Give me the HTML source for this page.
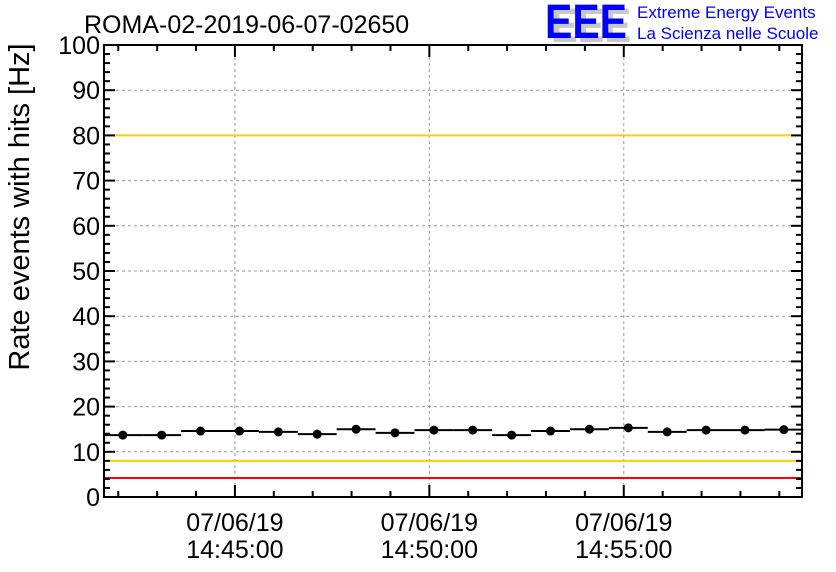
<!DOCTYPE html>
<html><head><meta charset="utf-8"><style>
body{margin:0;background:#fff;}
svg{display:block;font-family:"Liberation Sans",sans-serif;}
</style></head><body>
<svg id="c" width="836" height="572">
<text x="84" y="33" font-size="25">ROMA-02-2019-06-07-02650</text>
<g>
<text x="551" y="42" font-size="48" fill="#c8c8c8" font-weight="bold" textLength="80" lengthAdjust="spacingAndGlyphs">EEE</text>
<text x="545" y="38" font-size="48" fill="#0000ff" font-weight="bold" textLength="82" lengthAdjust="spacingAndGlyphs">EEE</text>
<text x="637" y="18" font-size="17" fill="#0000ff">Extreme Energy Events</text>
<text x="637" y="39" font-size="17" fill="#0000ff">La Scienza nelle Scuole</text>
</g>
<text transform="translate(29,207) rotate(-90)" text-anchor="middle" font-size="29">Rate events with hits [Hz]</text>
<g id="plot"></g>
</svg>
<script>
const values=[13.7,13.7,14.6,14.6,14.4,13.9,15.0,14.2,14.8,14.8,13.7,14.6,15.0,15.3,14.4,14.8,14.8,14.9];
const binStart=-203;
const binWidth=60;
const yTicks=[0,10,20,30,40,50,60,70,80,90,100];
const xTickTimes=[0,300,600];
const xTickLabels=[["07/06/19","14:45:00"],["07/06/19","14:50:00"],["07/06/19","14:55:00"]];
const thresholds=[{v:100,c:"#ff0000"},{v:80,c:"#ffcc00"},{v:8,c:"#ffcc00"},{v:4.2,c:"#ff0000"}];
const L=104,R=802,T=45,B=497,xmin=-202,xmax=875;
const X=t=>L+(t-xmin)/(xmax-xmin)*(R-L);
const Y=v=>B-v/100*(B-T);
const g=document.getElementById('plot');
const NS="http://www.w3.org/2000/svg";
function mk(tag,a){const e=document.createElementNS(NS,tag);for(const k in a)e.setAttribute(k,a[k]);g.appendChild(e);return e;}
yTicks.forEach(v=>{if(v>0&&v<100){const e=mk('line',{x1:L,x2:R,y1:Y(v),y2:Y(v),stroke:'#999','stroke-dasharray':'3,3','stroke-width':1});

}});
xTickTimes.forEach(t=>{const e=mk('line',{x1:X(t),x2:X(t),y1:T,y2:B,stroke:'#999','stroke-dasharray':'3,3','stroke-width':1});

});
thresholds.forEach(h=>{const e=mk('line',{x1:L,x2:R,y1:Y(h.v),y2:Y(h.v),stroke:h.c,'stroke-width':2});

});
const f=mk('rect',{x:L,y:T,width:R-L,height:B-T,fill:'none',stroke:'#000','stroke-width':2});


for(let v=0;v<=100;v+=2){const maj=v%10===0,len=maj?11:6;
mk('line',{x1:L,x2:L+len,y1:Y(v),y2:Y(v),stroke:'#000','stroke-width':2});
mk('line',{x1:R,x2:R-len,y1:Y(v),y2:Y(v),stroke:'#000','stroke-width':2});
if(maj){const tx=mk('text',{x:L-4,y:Y(v)+9,'text-anchor':'end','font-size':25});tx.textContent=v;

}}
for(let t=-180;t<=xmax;t+=60){const maj=t%300===0,len=maj?12:6;
mk('line',{x1:X(t),x2:X(t),y1:B,y2:B-len,stroke:'#000','stroke-width':2});
mk('line',{x1:X(t),x2:X(t),y1:T,y2:T+len,stroke:'#000','stroke-width':2});}
xTickTimes.forEach((t,i)=>{xTickLabels[i].forEach((s,j)=>{const tx=mk('text',{x:X(t),y:531+j*27,'text-anchor':'middle','font-size':25});tx.textContent=s;

});});
values.forEach((v,i)=>{const t0=binStart+i*binWidth,t1=t0+binWidth,c=(t0+t1)/2;
const l=mk('line',{x1:X(t0),x2:X(t1),y1:Y(v),y2:Y(v),stroke:'#000','stroke-width':2});


const p=mk('circle',{cx:X(c),cy:Y(v),r:4.5,fill:'#000'});

});
</script>
</body></html>
